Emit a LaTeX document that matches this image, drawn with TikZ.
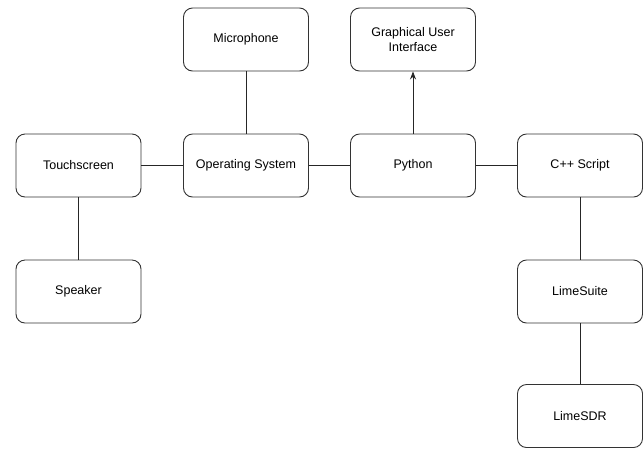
\documentclass[tikz,border=0pt]{standalone}
\usepackage{fontspec}
\setmainfont{Liberation Sans}
\usetikzlibrary{arrows.meta}

\begin{document}
\begin{tikzpicture}[x=1pt,y=-1pt,
  blockbox/.style={draw=black!80, rounded corners=9pt, minimum width=125pt, minimum height=63pt, align=center, font=\fontsize{12.5}{15}\selectfont, line width=0.9pt},
  link/.style={black!85, line width=0.8pt}]
\useasboundingbox (0,0) rectangle (644,448);
\node[blockbox] (touch) at (78.5,165.5) {Touchscreen};
\node[blockbox] (os) at (246,165.5) {Operating System};
\node[blockbox] (py) at (413,165.5) {Python};
\node[blockbox] (cpp) at (580,165.5) {C++ Script};
\node[blockbox] (mic) at (246,39.5) {Microphone};
\node[blockbox] (gui) at (413,39.5) {Graphical User\\Interface};
\node[blockbox] (spk) at (78.5,291.5) {Speaker};
\node[blockbox] (suite) at (580,291.5) {LimeSuite};
\node[blockbox] (sdr) at (580,416) {LimeSDR};
% connections
\draw[link] (touch) -- (os);
\draw[link] (os) -- (py);
\draw[link] (py) -- (cpp);
\draw[link] (mic) -- (os);
\draw[link, -{Stealth[length=8pt,width=6pt]}] (py) -- (gui);
\draw[link] (touch) -- (spk);
\draw[link] (cpp) -- (suite);
\draw[link] (suite) -- (sdr);
\end{tikzpicture}
\end{document}
